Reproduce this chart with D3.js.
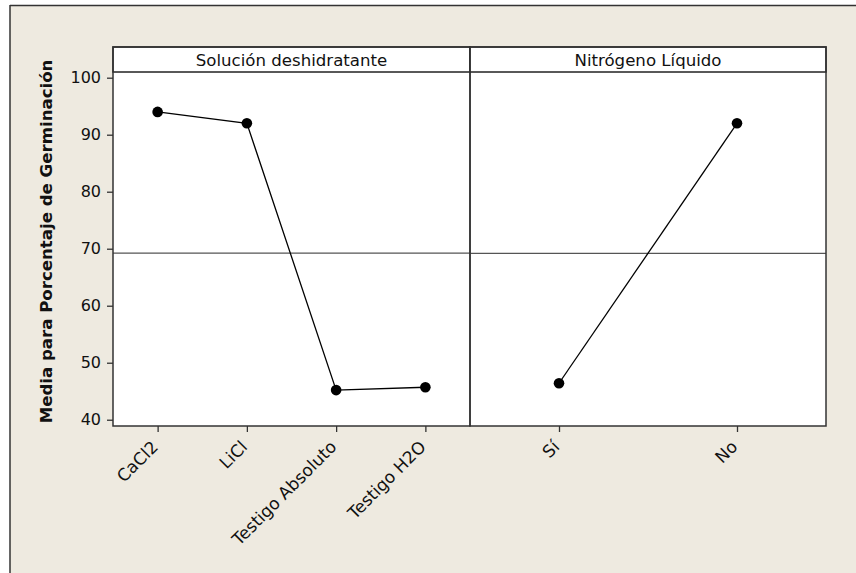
<!DOCTYPE html>
<html>
<head>
<meta charset="utf-8">
<script src="https://cdn.jsdelivr.net/npm/d3@7"></script>
<style>
  html, body { margin: 0; padding: 0; background: #ffffff; }
  svg { display: block; }
  svg text { font-family: "DejaVu Sans", Verdana, sans-serif; }
</style>
</head>
<body>
<svg id="chart" width="856" height="573"></svg>
<script>
// ---- data ----
const panelTitles = ["Solución deshidratante", "Nitrógeno Líquido"];
const solucionCats = ["CaCl2", "LiCl", "Testigo Absoluto", "Testigo H2O"];
const solucionMeans = [94.0, 92.0, 45.2, 45.7];
const nitrogenoCats = ["Sí", "No"];
const nitrogenoMeans = [46.4, 92.0];
const yTicks = [40, 50, 60, 70, 80, 90, 100];
const yTitle = "Media para Porcentaje de Germinación";

(function () {
const svg = d3.select("#chart");
const W = 856, H = 573;
const FONT = "DejaVu Sans, Verdana, sans-serif";

// outer frame
svg.append("rect").attr("x", 10).attr("y", 5).attr("width", W).attr("height", H)
  .attr("fill", "#eeeae0");
svg.append("line").attr("x1", 10).attr("x2", W).attr("y1", 5.5).attr("y2", 5.5)
  .attr("stroke", "#333").attr("stroke-width", 1.5);
svg.append("line").attr("x1", 10).attr("x2", 10).attr("y1", 5).attr("y2", H)
  .attr("stroke", "#333").attr("stroke-width", 1.5);

const pLeft = 113, pMid = 470, pRight = 826;
const pTop = 47, headBot = 72, pBottom = 426;

const y = d3.scaleLinear().domain([38.9, 101.0]).range([pBottom, headBot]);

const panels = [
  { title: panelTitles[0], cats: solucionCats, vals: solucionMeans, x0: pLeft, x1: pMid },
  { title: panelTitles[1], cats: nitrogenoCats, vals: nitrogenoMeans, x0: pMid, x1: pRight }
];

panels.forEach(p => {
  svg.append("rect").attr("x", p.x0).attr("y", pTop).attr("width", p.x1 - p.x0)
    .attr("height", pBottom - pTop).attr("fill", "#ffffff");
});

panels.forEach(p => {
  const x = d3.scalePoint().domain(p.cats).range([p.x0, p.x1]).padding(0.5);
  const mean = d3.mean(p.vals);

  svg.append("line").attr("x1", p.x0).attr("x2", p.x1)
    .attr("y1", y(mean)).attr("y2", y(mean))
    .attr("stroke", "#555").attr("stroke-width", 1.2);

  const pts = p.cats.map((c, i) => [x(c), y(p.vals[i])]);
  svg.append("path").attr("d", d3.line()(pts)).attr("fill", "none")
    .attr("stroke", "#000").attr("stroke-width", 1.3);
  svg.selectAll(null).data(pts).enter().append("circle")
    .attr("cx", d => d[0]).attr("cy", d => d[1]).attr("r", 5.3).attr("fill", "#000");

  const gx = svg.append("g").attr("transform", `translate(0,${pBottom})`)
    .call(d3.axisBottom(x).tickSize(6).tickPadding(4));
  gx.attr("font-family", FONT).attr("font-size", 17);
  gx.select(".domain").remove();
  gx.selectAll(".tick line").attr("stroke", "#333").attr("stroke-width", 1.3);
  gx.selectAll(".tick text")
    .attr("fill", "#111")
    .attr("text-anchor", "end")
    .attr("dy", null).attr("y", 0)
    .attr("transform", "translate(1,22) rotate(-45)");

  svg.append("rect").attr("x", p.x0).attr("y", pTop).attr("width", p.x1 - p.x0)
    .attr("height", headBot - pTop).attr("fill", "#fff")
    .attr("stroke", "#222").attr("stroke-width", 1.5);
  svg.append("text").attr("x", (p.x0 + p.x1) / 2).attr("y", pTop + 19)
    .attr("text-anchor", "middle").attr("font-size", 16.6).attr("fill", "#111")
    .text(p.title);

  svg.append("rect").attr("x", p.x0).attr("y", pTop).attr("width", p.x1 - p.x0)
    .attr("height", pBottom - pTop).attr("fill", "none")
    .attr("stroke", "#333").attr("stroke-width", 1.5);
});

const gy = svg.append("g").attr("transform", `translate(${pLeft},0)`)
  .call(d3.axisLeft(y).tickValues(yTicks).tickSize(6).tickPadding(6));
gy.attr("font-family", FONT).attr("font-size", 16);
gy.select(".domain").remove();
gy.selectAll(".tick line").attr("stroke", "#333").attr("stroke-width", 1.3);
gy.selectAll(".tick text").attr("fill", "#111");

svg.append("text")
  .attr("transform", `translate(52,${(pTop + pBottom) / 2 + 5}) rotate(-90)`)
  .attr("text-anchor", "middle").attr("font-size", 16.6).attr("font-weight", "bold")
  .attr("fill", "#111").text(yTitle);
})();
</script>
</body>
</html>
